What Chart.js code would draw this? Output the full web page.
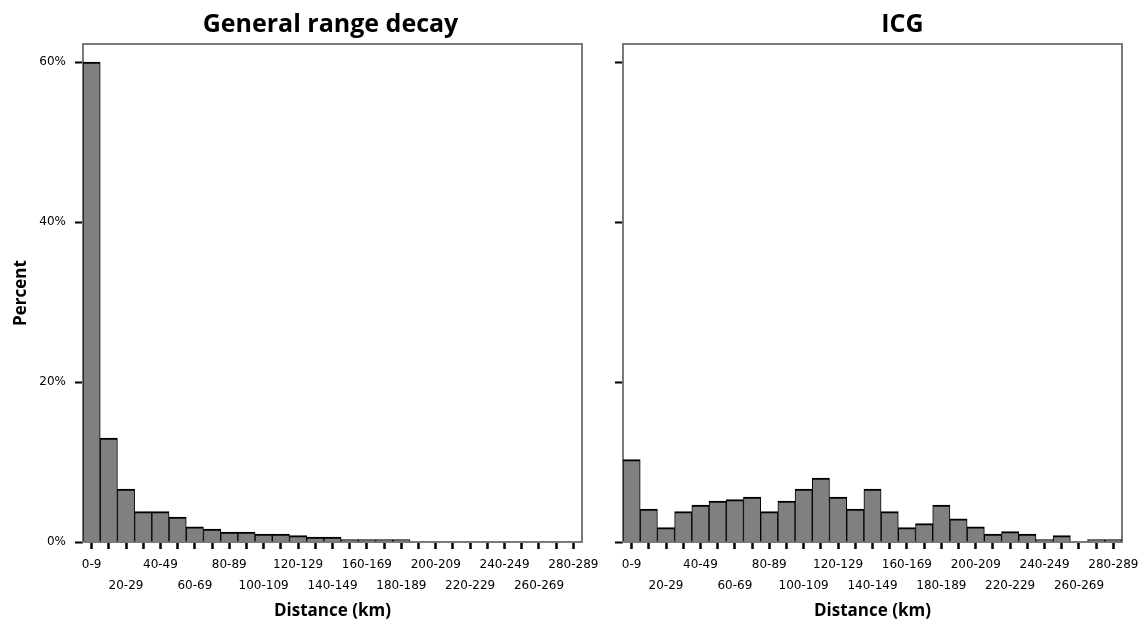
<!DOCTYPE html>
<html>
<head>
<meta charset="utf-8">
<title>Distance histograms</title>
<script src="https://cdn.jsdelivr.net/npm/chart.js@4.4.1/dist/chart.umd.min.js"></script>
<style>
  html, body { margin: 0; padding: 0; background: #fff; overflow: hidden; }
  #wrap { position: relative; width: 1141px; height: 626px; }
  canvas { position: absolute; top: 0; }
  #leftChart { left: 0; }
  #rightChart { left: 600px; }
</style>
</head>
<body>
<div id="wrap">
  <canvas id="leftChart" width="600" height="626"></canvas>
  <canvas id="rightChart" width="541" height="626"></canvas>
</div>
<script>
// distance classes (km)
const distances = [
    "0-9", "10-19", "20-29", "30-39", "40-49", "50-59", "60-69", "70-79",
    "80-89", "90-99", "100-109", "110-119", "120-129", "130-139", "140-149",
    "150-159", "160-169", "170-179", "180-189", "190-199", "200-209",
    "210-219", "220-229", "230-239", "240-249", "250-259", "260-269",
    "270-279", "280-289"
];

// percent of cases in each class
const generalDecay = [
    60, 13.0, 6.6, 3.8, 3.8, 3.1, 1.9, 1.6, 1.25, 1.25, 1.0, 1.0, 0.8, 0.6, 0.6,
    0.3, 0.3, 0.3, 0.3, 0, 0, 0, 0, 0, 0, 0, 0, 0, 0
];
const icg = [
    10.3, 4.1, 1.8, 3.8, 4.6, 5.1, 5.3, 5.6, 3.8, 5.1, 6.6, 8.0, 5.6, 4.1, 6.6,
    3.8, 1.8, 2.3, 4.6, 2.9, 1.9, 1.0, 1.3, 1.0, 0.3, 0.8, 0, 0.3, 0.3
];

// y axis ticks (percent)
const percentTicks = [0, 20, 40, 60];

const tickFont = { family: "DejaVu Sans", size: 12, lineHeight: 1.75 };
const titleFont = { family: "Open Sans", size: 17, weight: "bold" };

// grey frame round the plot area, under the bars
const frame = {
    id: "frame",
    beforeDatasetsDraw(chart) {
        const a = chart.chartArea;
        const ctx = chart.ctx;
        ctx.save();
        ctx.strokeStyle = "#7a7a7a";
        ctx.lineWidth = 2;
        ctx.strokeRect(a.left, a.top, a.right - a.left, a.bottom - a.top);
        ctx.restore();
    }
};

// panel title, centred over the plot (shift moves it sideways)
const panelTitle = {
    id: "panelTitle",
    afterDraw(chart, args, opts) {
        const a = chart.chartArea;
        const ctx = chart.ctx;
        ctx.save();
        ctx.font = "bold 25px 'Open Sans'";
        ctx.fillStyle = "#000";
        ctx.textAlign = "center";
        ctx.textBaseline = "alphabetic";
        ctx.fillText(opts.text, (a.left + a.right) / 2 + opts.shift, 32);
        ctx.restore();
    }
};

function makeChart(id, title, values, showPercent, shift, axisWidth, padRight) {
    const ctx = document.getElementById(id).getContext("2d");
    return new Chart(ctx, {
        type: "bar",
        data: {
            labels: distances,
            datasets: [
                {
                    data: values,
                    backgroundColor: "#808080",
                    borderColor: "#000",
                    borderWidth: { top: 2, left: 1, right: 1, bottom: 0 },
                    borderSkipped: "start",
                    categoryPercentage: 1,
                    barPercentage: 1
                }
            ]
        },
        options: {
            responsive: false,
            animation: false,
            layout: { padding: { top: 44, right: padRight, bottom: 0, left: 0 } },
            plugins: {
                legend: { display: false },
                tooltip: { enabled: false },
                panelTitle: { text: title, shift: shift }
            },
            scales: {
                x: {
                    grid: {
                        offset: false,
                        drawOnChartArea: false,
                        tickLength: 7,
                        tickWidth: 2.5,
                        tickColor: "#000"
                    },
                    border: { display: false },
                    ticks: {
                        autoSkip: false,
                        maxRotation: 0,
                        minRotation: 0,
                        padding: 5,
                        color: "#000",
                        font: tickFont,
                        callback: function(val, i) {
                            if (i % 4 === 0) return distances[i];
                            if (i % 4 === 2) return ["", distances[i]];
                            return "";
                        }
                    },
                    title: {
                        display: true,
                        text: "Distance (km)",
                        color: "#000",
                        font: titleFont,
                        padding: { top: 0, bottom: 5 }
                    },
                    afterFit: function(s) {
                        s.height = 84;
                        s.paddingLeft = 0;
                        s.paddingRight = 0;
                    }
                },
                y: {
                    min: 0,
                    max: 62.25,
                    grid: {
                        drawOnChartArea: false,
                        tickLength: 8,
                        tickWidth: 2,
                        tickColor: "#000"
                    },
                    border: { display: false },
                    ticks: {
                        includeBounds: false,
                        padding: 9,
                        color: "#000",
                        font: { family: "DejaVu Sans", size: 12 },
                        callback: function(v) {
                            return showPercent ? v + "%" : "";
                        }
                    },
                    afterBuildTicks: function(s) {
                        s.ticks = percentTicks.map(v => ({ value: v }));
                    },
                    title: {
                        display: showPercent,
                        text: "Percent",
                        color: "#000",
                        font: titleFont,
                        padding: { top: 11, bottom: 0 }
                    },
                    afterFit: function(s) {
                        s.width = axisWidth;
                        s.paddingTop = 0;
                        s.paddingBottom = 0;
                    }
                }
            }
        },
        plugins: [frame, panelTitle]
    });
}

makeChart("leftChart", "General range decay", generalDecay, true, -2, 83, 18);
makeChart("rightChart", "ICG", icg, false, 30, 23, 19);
</script>
</body>
</html>
